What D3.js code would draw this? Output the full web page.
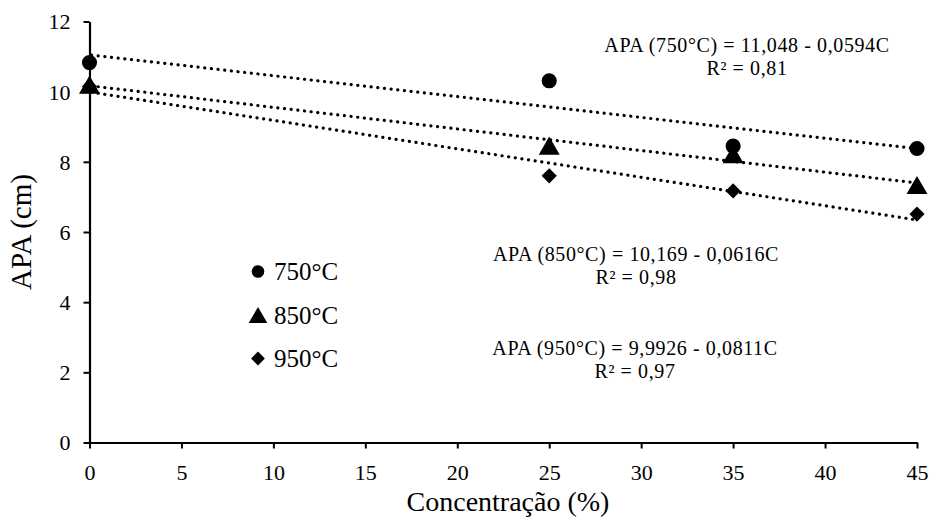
<!DOCTYPE html>
<html><head><meta charset="utf-8">
<script src="https://cdn.jsdelivr.net/npm/d3@7"></script>
<style>body{margin:0;background:#fff}svg{display:block}</style>
</head><body><svg id="c" width="929" height="519"></svg>
<script>
const concentrations = [0, 25, 35, 45];
const series = ["750°C", "850°C", "950°C"];
const apa750 = [10.83, 10.31, 8.45, 8.38];
const apa850 = [10.2, 8.46, 8.22, 7.34];
const apa950 = [10.15, 7.6, 7.17, 6.51];
const intercepts = [11.048, 10.169, 9.9926];
const slopes = [-0.0594, -0.0616, -0.0811];
const equations = ["APA (750°C) = 11,048 - 0,0594C", "APA (850°C) = 10,169 - 0,0616C", "APA (950°C) = 9,9926 - 0,0811C"];
const r2Labels = ["R² = 0,81", "R² = 0,98", "R² = 0,97"];
const xTicks = [0,5,10,15,20,25,30,35,40,45];
const yTicks = [0,2,4,6,8,10,12];

const FONT = '"Liberation Serif","Times New Roman",serif';
const svg = d3.select("#c");
const x = d3.scaleLinear().domain([0,45]).range([89.5,917]);
const y = d3.scaleLinear().domain([0,12]).range([442.5,21.5]);

function txt(sel, size){ return sel.attr("font-family",FONT).style("font-family",FONT).style("font-size",size+"px").attr("fill","#000"); }

// axes
const xa = svg.append("g").attr("transform","translate(0,442.5)")
  .call(d3.axisBottom(x).tickValues(xTicks).tickSize(6).tickSizeOuter(0).tickFormat(d3.format("d")));
const ya = svg.append("g").attr("transform","translate(89.5,0)")
  .call(d3.axisLeft(y).tickValues(yTicks).tickSize(6).tickSizeOuter(0).tickFormat(d3.format("d")));
[xa,ya].forEach(g=>{
  g.attr("font-family",FONT);
  g.select(".domain").attr("stroke","#000").attr("stroke-width",2.2);
  g.selectAll(".tick line").attr("stroke","#000").attr("stroke-width",2);
  txt(g.selectAll(".tick text"), 22);
});
xa.selectAll(".tick text").attr("y",37).attr("dy",0);
ya.selectAll(".tick text").attr("x",-19).attr("dy","0.34em");

txt(svg.append("text").attr("x",508).attr("y",511).attr("text-anchor","middle"),28).text("Concentração (%)");
txt(svg.append("text").attr("transform","translate(31,232) rotate(-90)").attr("text-anchor","middle"),29).text("APA (cm)");

// trendlines
intercepts.forEach((b,i)=>{
  const m = slopes[i];
  svg.append("line").attr("x1",x(0)+2).attr("y1",y(b+m*0.1)).attr("x2",x(45)).attr("y2",y(b+m*45))
    .attr("stroke","#000").attr("stroke-width",3.2).attr("stroke-dasharray","0.1,6.6").attr("stroke-linecap","round");
});

// markers
const shapes = [d3.symbolCircle, d3.symbolTriangle, d3.symbolSquare];
const sizes = [180, 190, 115];
const rot = [0, 0, 45];
const triOff = Math.sqrt(190/(3*Math.sqrt(3)))/2;
const data = [apa750, apa850, apa950];
[2,1,0].forEach(i=>{
  const sym = d3.symbol().type(shapes[i]).size(sizes[i]);
  svg.append("g").selectAll("path").data(concentrations).join("path")
    .attr("d",sym).attr("fill","#000")
    .attr("transform",(c,j)=>`translate(${x(c)},${y(data[i][j]) + (i===1?triOff:0)}) rotate(${rot[i]})`);
});

// legend
const legY = [271.5, 315, 358.5];
const legSizes = [125, 150, 95];
series.forEach((s,i)=>{
  const sym = d3.symbol().type(shapes[i]).size(legSizes[i]);
  const off = i===1 ? Math.sqrt(150/(3*Math.sqrt(3)))/2 : 0;
  svg.append("path").attr("d",sym).attr("fill","#000").attr("transform",`translate(258,${legY[i]+off}) rotate(${rot[i]})`);
  txt(svg.append("text").attr("x",274).attr("y",legY[i]+8.5),25).text(s);
});

// equations
const eqPos = [[747,52],[636,260.5],[635,355]];
equations.forEach((e,i)=>{
  txt(svg.append("text").attr("x",eqPos[i][0]).attr("y",eqPos[i][1]).attr("text-anchor","middle"),20)
    .style("letter-spacing","0.6px").text(e);
  txt(svg.append("text").attr("x",eqPos[i][0]).attr("y",eqPos[i][1]+23).attr("text-anchor","middle"),20)
    .style("letter-spacing","0.6px").text(r2Labels[i]);
});
</script></body></html>
